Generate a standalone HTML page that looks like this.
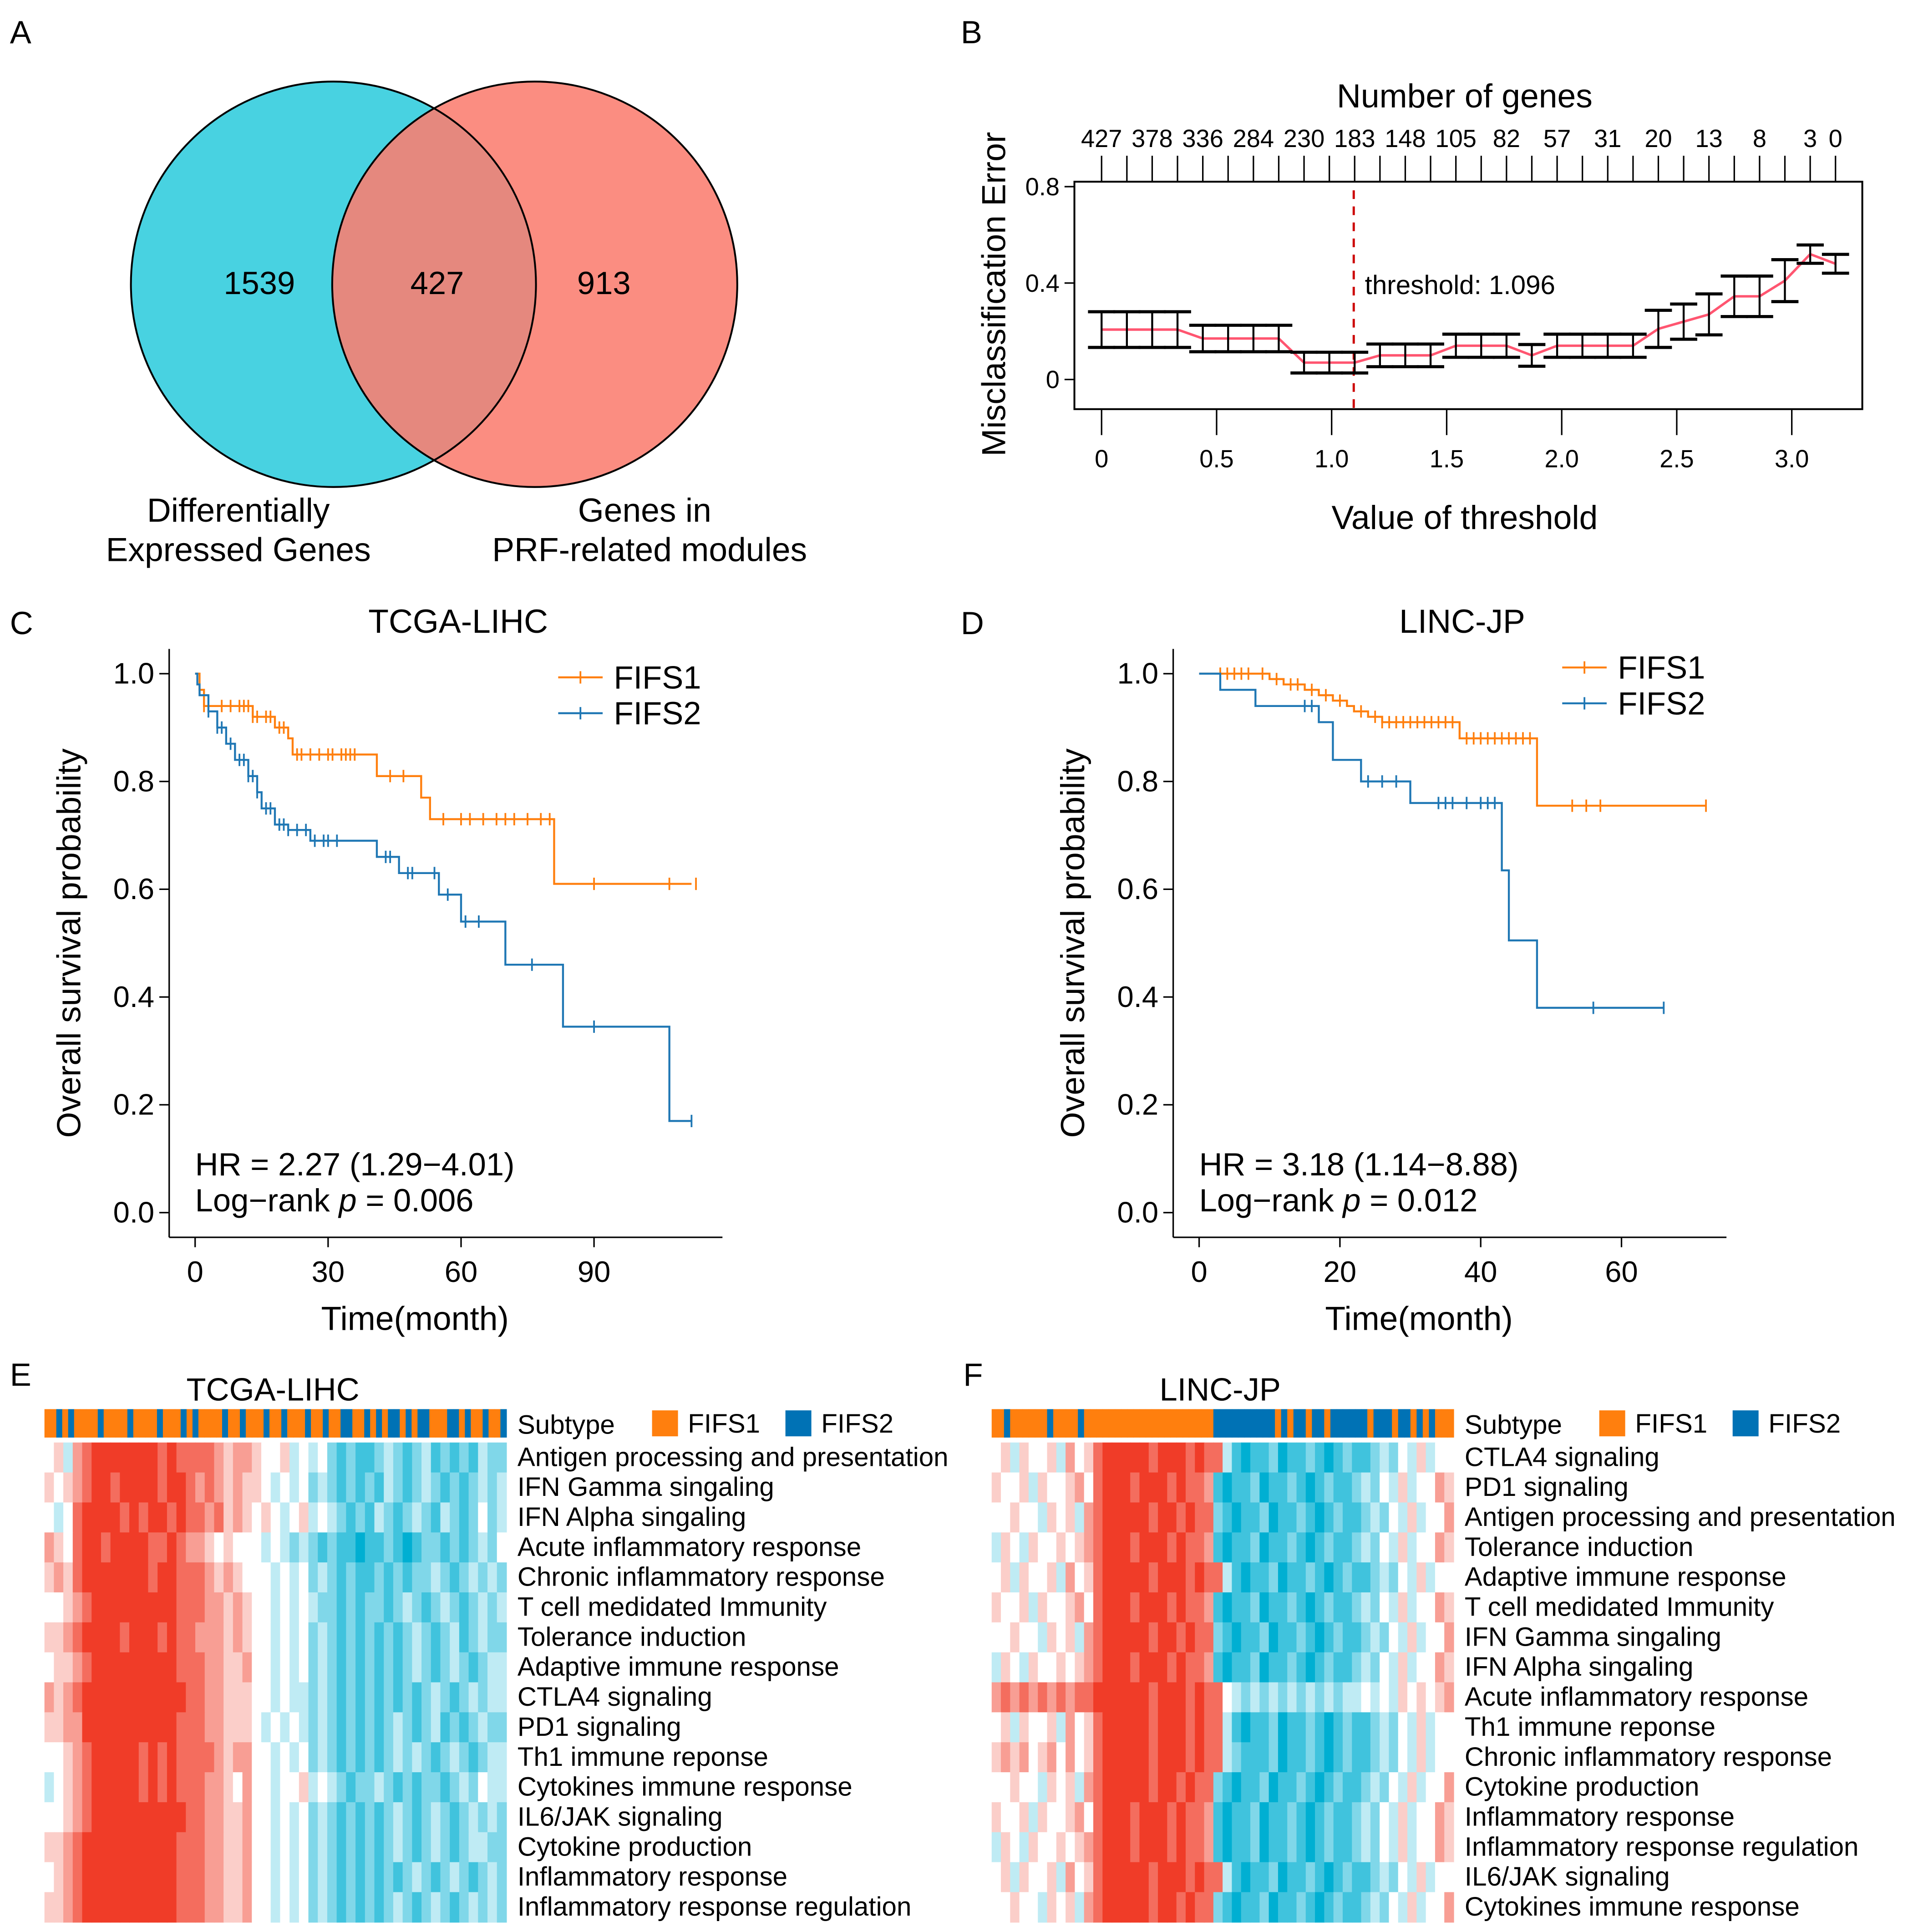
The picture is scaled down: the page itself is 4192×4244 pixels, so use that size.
<!DOCTYPE html>
<html><head><meta charset="utf-8"><style>
html,body{margin:0;padding:0;background:#fff}
svg{display:block}
text{font-family:"Liberation Sans",Arial,sans-serif;fill:#000}
</style></head><body>
<svg id="root" xmlns="http://www.w3.org/2000/svg" width="4192" height="4244" viewBox="0 0 1545 1563" preserveAspectRatio="none">
<rect width="1545" height="1563" fill="#fff"/>
<g font-size="26">
<text x="8" y="35">A</text>
<text x="778" y="35">B</text>
<text x="8" y="513">C</text>
<text x="778" y="513">D</text>
<text x="8" y="1121">E</text>
<text x="780" y="1121">F</text>
</g>
<g>
<circle cx="270" cy="230" r="164" fill="#48d2e1"/>
<circle cx="433" cy="230" r="164" fill="#fa7d70" fill-opacity="0.88"/>
<circle cx="270" cy="230" r="164" fill="none" stroke="#000" stroke-width="1.5"/>
<circle cx="433" cy="230" r="164" fill="none" stroke="#000" stroke-width="1.5"/>
<g font-size="26" text-anchor="middle">
<text x="210" y="238">1539</text>
<text x="354" y="238">427</text>
<text x="489" y="238">913</text>
<text x="193" y="422" font-size="27">Differentially</text>
<text x="193" y="454" font-size="27">Expressed Genes</text>
<text x="522" y="422" font-size="27">Genes in</text>
<text x="526" y="454" font-size="27">PRF-related modules</text>
</g></g>
<g id="panelB"></g>
<g id="panelC"></g>
<g id="panelD"></g>
<g id="panelE"></g>
<g id="panelF"></g>
</svg>
<script>
const bThresholds=[0,0.11,0.22,0.33,0.44,0.55,0.66,0.77,0.88,0.99,1.10,1.21,1.32,1.43,1.54,1.65,1.76,1.87,1.98,2.09,2.2,2.31,2.42,2.53,2.64,2.75,2.86,2.97,3.08,3.19];
const bErrors=[0.207,0.207,0.207,0.207,0.17,0.17,0.17,0.17,0.07,0.07,0.07,0.10,0.10,0.10,0.14,0.14,0.14,0.10,0.14,0.14,0.14,0.14,0.21,0.24,0.27,0.345,0.345,0.41,0.52,0.48];
const bSE=[0.074,0.074,0.074,0.074,0.055,0.055,0.055,0.055,0.043,0.043,0.043,0.047,0.047,0.047,0.048,0.048,0.048,0.045,0.048,0.048,0.048,0.048,0.077,0.073,0.085,0.084,0.084,0.087,0.038,0.039];
const bGeneLabels=["427","378","336","284","230","183","148","105","82","57","31","20","13","8","3","0"];
const bXTicks=[0,0.5,1.0,1.5,2.0,2.5,3.0];
const bYTicks=[0,0.4,0.8];
const bCut=1.096;
const cT1=[0,1,2,13,18,21,22,41,51,53,81,112];
const cS1=[1,0.97,0.94,0.92,0.90,0.88,0.85,0.81,0.77,0.73,0.61,0.61];
const cCens1=[2,6,8,10,11,12,13,14,16,17,19,20,23,24,26,28,30,31,33,34,35,36,44,47,56,60,62,65,68,70,72,75,78,80,90,107,113];
const cT2=[0,0.5,1,3,5,7,9,12,14,15,18,21,26,41,46,55,60,70,83,107,112];
const cS2=[1,0.98,0.96,0.93,0.90,0.87,0.84,0.81,0.78,0.75,0.72,0.71,0.69,0.66,0.63,0.59,0.54,0.46,0.345,0.17,0.17];
const cCens2=[3,5,6,8,10,11,12,13,14,16,17,19,20,21,23,25,27,29,30,32,43,44,48,49,54,57,61,64,76,90,112];
const dT1=[0,10,12,15,17,19,21,22,24,26,37,48,72];
const dS1=[1,0.99,0.98,0.97,0.96,0.95,0.94,0.93,0.92,0.91,0.88,0.755,0.755];
const dCens1=[3,4,5,6,7,9,11,13,14,16,18,20,23,25,26,27,28,29,30,31,32,33,34,35,36,38,39,40,41,42,43,44,45,46,47,53,55,57,72];
const dT2=[0,3,8,17,19,23,30,43,44,48,66];
const dS2=[1,0.97,0.94,0.91,0.84,0.80,0.76,0.635,0.505,0.38,0.38];
const dCens2=[15,16,24,26,28,34,35,36,38,40,41,42,56,66];
const cXTicks=[0,30,60,90];
const dXTicks=[0,20,40,60];
const kmYTicks=[0,0.2,0.4,0.6,0.8,1.0];
const eRows=["Antigen processing and presentation","IFN Gamma singaling","IFN Alpha singaling","Acute inflammatory response","Chronic inflammatory response","T cell medidated Immunity","Tolerance induction","Adaptive immune response","CTLA4 signaling","PD1 signaling","Th1 immune reponse","Cytokines immune response","IL6/JAK signaling","Cytokine production","Inflammatory response","Inflammatory response regulation"];
const eValues=["4536788888887877776566544534342121123212312121322","5456788788887887676565543434232121213212321212323","4347888878788787767565454345343212132123213212423","6547887888877876654544434323212110112101221212324","5657888888878877765654443434232121121212232123232","4456788888888877766565443434322121221232123212323","5567888878887877666565443434232121212123212312322","4556788888888877766556443434232121212123212321233","6567888888888887766555443433232121212121232123233","5566888888888877766555434343232121212321231212322","4456788888787877776566443434232121212323212321233","3456788888787877766546443445343212232121221232433","4456788888888887766556443434232121212321232123232","5567888888888877766556443434232121212321232123322","4567888888888877766556443434232121212123212321232","5567888888888877766556443434232121212321232123232"];
const eSubtype="oobobooooboooobooooboooboboooobooboooboobooobooboobboobobobbobobbooobbobooboob";
const fRows=["CTLA4 signaling","PD1 signaling","Antigen processing and presentation","Tolerance induction","Adaptive immune response","T cell medidated Immunity","IFN Gamma singaling","IFN Alpha singaling","Acute inflammatory response","Th1 immune reponse","Chronic inflammatory response","Cytokine production","Inflammatory response","Inflammatory response regulation","IL6/JAK signaling","Cytokines immune response"];
const fValues=["45354453645788888788878773101120112101211232435344","54453544564788878887877610112011210121123243534465","44544354536788888788787721011201121012112324353446","35435445456788878887877610112011210121123243534465","45354453645788888788878773101120112101211232435344","54453544564788878887877610112011210121123243534465","44544354536788888788787721011201121012112324353446","35435445456788878887877610112011210121123243534465","67676767677888888788878774323232323232334343545456","45354453645788888788878773101120112101211232435344","56564564645788888788878773211120112101211232435344","44544354536788888788787721011201121012112324353446","54453544564788878887877610112011210121123243534465","35435445456788878887877610112011210121123243534465","45354453645788888788878773101120112101211232435344","44544354536788888788787721011201121012112324353446"];
const fSubtype="oobooooooboooobooooooooooooooooooooobbbbbbbbbbobobbobbobbbbbbobbbobbobobooo";

const NS="http://www.w3.org/2000/svg";
function el(parent,tag,attrs,txt){const e=document.createElementNS(NS,tag);for(const k in attrs)e.setAttribute(k,attrs[k]);if(txt!==undefined)e.textContent=txt;parent.appendChild(e);return e;}

(function(){
const g=document.getElementById('panelB');
const X=v=>892+v*186.3, Y=v=>307-v*195;
const r=el(g,'rect',{x:870,y:147,width:638,height:184,fill:'none',stroke:'#000','stroke-width':1.5});


el(g,'text',{x:1186,y:87,'font-size':27,'text-anchor':'middle'},'Number of genes');
bThresholds.forEach((t,i)=>{el(g,'line',{x1:X(t),x2:X(t),y1:147,y2:126,stroke:'#000','stroke-width':1.2});});
bGeneLabels.forEach((s,i)=>{const idx=i<15?i*2:29;const tx=el(g,'text',{x:X(bThresholds[idx]),y:119,'font-size':20,'text-anchor':'middle'},s);

});
bXTicks.forEach(v=>{el(g,'line',{x1:X(v),x2:X(v),y1:331,y2:352,stroke:'#000','stroke-width':1.2});
const t=el(g,'text',{x:X(v),y:378,'font-size':20,'text-anchor':'middle'},v===0?'0':v.toFixed(1));

});
bYTicks.forEach(v=>{el(g,'line',{x1:862,x2:870,y1:Y(v),y2:Y(v),stroke:'#000','stroke-width':1.2});
el(g,'text',{x:858,y:Y(v)+7,'font-size':20,'text-anchor':'end'},v===0?'0':v.toFixed(1));});
el(g,'line',{x1:870,x2:870,y1:Y(0),y2:Y(0.8),stroke:'#000','stroke-width':1.2});
const xt=el(g,'text',{x:1186,y:428,'font-size':27,'text-anchor':'middle'},'Value of threshold');


const yt=el(g,'text',{x:0,y:0,'font-size':27,'text-anchor':'middle',transform:'translate(814,238) rotate(-90)'},'Misclassification Error');


el(g,'line',{x1:X(bCut),x2:X(bCut),y1:154,y2:330,stroke:'#c00','stroke-width':1.8,'stroke-dasharray':'7,6'});
el(g,'text',{x:X(bCut)+9,y:238,'font-size':21.5},'threshold: 1.096');
const pts=bThresholds.map((t,i)=>X(t)+','+Y(bErrors[i])).join(' ');
const pl=el(g,'polyline',{points:pts,fill:'none',stroke:'#ff5570','stroke-width':2});


bThresholds.forEach((t,i)=>{const x=X(t),lo=Y(bErrors[i]-bSE[i]),hi=Y(bErrors[i]+bSE[i]);
const eb=el(g,'g',{stroke:'#000','stroke-width':1.6});


el(eb,'line',{x1:x,x2:x,y1:lo,y2:hi});
el(eb,'line',{x1:x-11,x2:x+11,y1:lo,y2:lo,'stroke-width':2.5});
el(eb,'line',{x1:x-11,x2:x+11,y1:hi,y2:hi,'stroke-width':2.5});});
})();

function km(id,title,x0,scale,xmax,xTicks,T1,S1,C1,T2,S2,C2,hr,p,legY){
const g=document.getElementById(id);
const X=v=>x0+v*scale, Y=v=>981-v*436;
const axL=x0-21;
el(g,'text',{x:x0+213,y:512,'font-size':27,'text-anchor':'middle'},title);
el(g,'line',{x1:axL,x2:axL,y1:525,y2:1001,stroke:'#000','stroke-width':1.2});
el(g,'line',{x1:axL,x2:axL+448,y1:1001,y2:1001,stroke:'#000','stroke-width':1.2});
kmYTicks.forEach(v=>{el(g,'line',{x1:axL-8,x2:axL,y1:Y(v),y2:Y(v),stroke:'#000','stroke-width':1.2});
const t=el(g,'text',{x:axL-12,y:Y(v)+8,'font-size':24,'text-anchor':'end'},v.toFixed(1));

});
xTicks.forEach(v=>{el(g,'line',{x1:X(v),x2:X(v),y1:1001,y2:1009,stroke:'#000','stroke-width':1.2});
const t=el(g,'text',{x:X(v),y:1037,'font-size':24,'text-anchor':'middle'},String(v));

});
el(g,'text',{x:x0+178,y:1076,'font-size':27,'text-anchor':'middle'},'Time(month)');
el(g,'text',{x:0,y:0,'font-size':27,'text-anchor':'middle',transform:`translate(${axL-72},763) rotate(-90)`},'Overall survival probability');
function curve(T,S,C,col,name){
let d=`M${X(T[0])},${Y(S[0])}`;
for(let i=1;i<T.length;i++){d+=` H${X(T[i])} V${Y(S[i])}`;}
const pth=el(g,'path',{d:d,fill:'none',stroke:col,'stroke-width':1.6});


C.forEach(c=>{let s=S[0];for(let i=0;i<T.length;i++){if(T[i]<=c)s=S[i];}
const m=el(g,'line',{x1:X(c),x2:X(c),y1:Y(s)-5,y2:Y(s)+5,stroke:col,'stroke-width':1.4});

});}
curve(T1,S1,C1,'#ff7f0e','fifs1');
curve(T2,S2,C2,'#1f77b4','fifs2');
const lx=axL+315;
[['FIFS1','#ff7f0e',0],['FIFS2','#1f77b4',29]].forEach(([n,c,o])=>{const lg=el(g,'g',{});


el(lg,'line',{x1:lx,x2:lx+36,y1:legY+o,y2:legY+o,stroke:c,'stroke-width':1.6});
el(lg,'line',{x1:lx+18,x2:lx+18,y1:legY+o-5,y2:legY+o+5,stroke:c,'stroke-width':1.4});
el(lg,'text',{x:lx+45,y:legY+o+9,'font-size':26},n);});
el(g,'text',{x:axL+21,y:951,'font-size':26},hr);
const t=el(g,'text',{x:axL+21,y:980,'font-size':26});
el(t,'tspan',{},'Log\u2212rank ');el(t,'tspan',{'font-style':'italic'},'p');el(t,'tspan',{},' = '+p);
}
km('panelC','TCGA-LIHC',158,3.589,112,cXTicks,cT1,cS1,cCens1,cT2,cS2,cCens2,'HR = 2.27 (1.29\u22124.01)','0.006',548);
km('panelD','LINC-JP',971,5.7,72,dXTicks,dT1,dS1,dCens1,dT2,dS2,dCens2,'HR = 3.18 (1.14\u22128.88)','0.012',540);

function col(d){const v=(d-4)/4;
if(v>=0){return `rgb(${Math.round(255-15*v)},${Math.round(255-195*v)},${Math.round(255-215*v)})`;}
const a=-v;return `rgb(${Math.round(255-255*a)},${Math.round(255-80*a)},${Math.round(255-45*a)})`;}
function heat(id,title,x0,rows,vals,sub){
const g=document.getElementById(id);
const w=374,y0=1167,rh=24.25;
el(g,'text',{x:x0+185,y:1133,'font-size':26,'text-anchor':'middle'},title);
const sw=w/sub.length;
for(let i=0;i<sub.length;i++){const r=el(g,'rect',{x:x0+i*sw,y:1140,width:sw+0.4,height:23,fill:sub[i]==='o'?'#ff7f0e':'#0072b5'});

}
vals.forEach((s,ri)=>{const cw=w/s.length;
for(let ci=0;ci<s.length;ci++){const r=el(g,'rect',{x:x0+ci*cw,y:y0+ri*rh,width:cw+0.4,height:rh+0.4,fill:col(+s[ci])});

}
const t=el(g,'text',{x:x0+383,y:y0+ri*rh+19,'font-size':21.5},rows[ri]);

});
el(g,'text',{x:x0+383,y:1160,'font-size':21.5},'Subtype');
const lx=x0+492;
el(g,'rect',{x:lx,y:1141,width:21,height:21,fill:'#ff7f0e'});
el(g,'text',{x:lx+29,y:1159,'font-size':21.5},'FIFS1');
el(g,'rect',{x:lx+108,y:1141,width:21,height:21,fill:'#0072b5'});
el(g,'text',{x:lx+137,y:1159,'font-size':21.5},'FIFS2');
}
heat('panelE','TCGA-LIHC',36,eRows,eValues,eSubtype);
heat('panelF','LINC-JP',803,fRows,fValues,fSubtype);
</script>
</body></html>
